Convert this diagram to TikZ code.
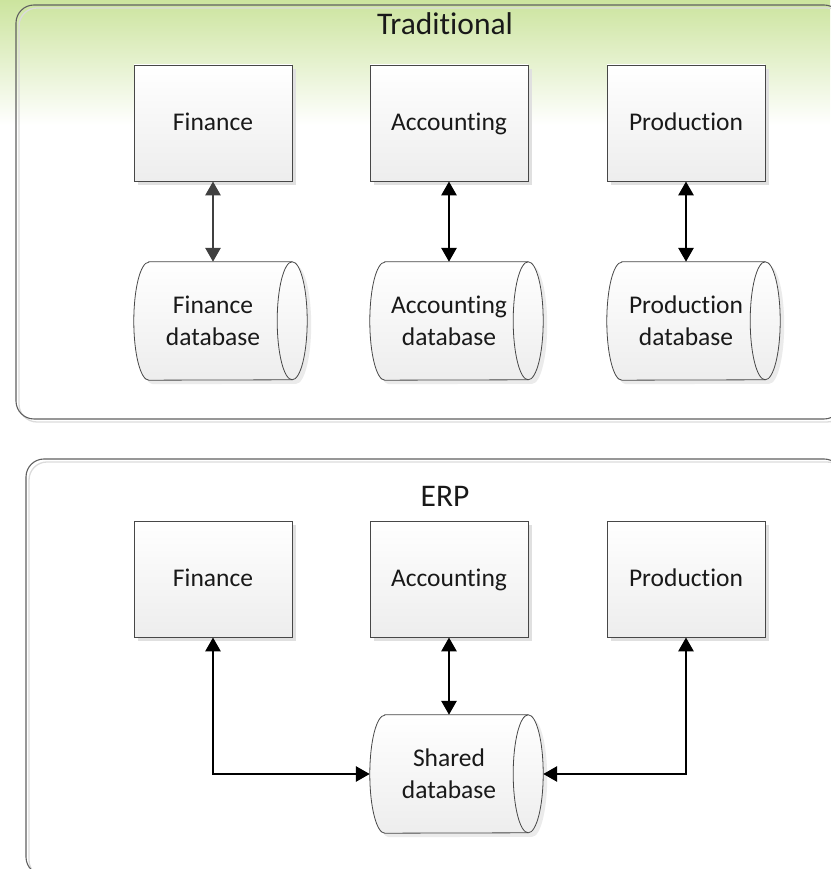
\documentclass[tikz,border=0pt]{standalone}
\usepackage{fontspec}
\setmainfont{Carlito}[Ligatures=NoCommon]
\usetikzlibrary{arrows.meta,calc,shadows}
\definecolor{bandgreen}{RGB}{204,228,158}
\definecolor{edgegray}{RGB}{96,96,96}
\newcommand\lblfont{\fontsize{25.5pt}{32pt}\selectfont}
\newcommand\headfont{\fontsize{31.5pt}{38pt}\selectfont}
\pgfdeclarelayer{background}
\pgfsetlayers{background,main}
% horizontal cylinder drawn around a database node
\newcommand\dbshape[1]{%
  \begin{pgfonlayer}{background}
    \fill[black!8] ($(#1.north west)+(19,-4)$) -- ($(#1.north east)+(4,-4)$)
      arc[start angle=90,end angle=-90,x radius=15pt,y radius=59pt]
      -- ($(#1.south west)+(19,-4)$)
      arc[start angle=270,end angle=90,x radius=15pt,y radius=59pt] -- cycle;
    \draw[dbline,top color=white,bottom color=black!7]
      ($(#1.north west)+(15,0)$) -- (#1.north east)
      arc[start angle=90,end angle=-90,x radius=15pt,y radius=59pt]
      -- ($(#1.south west)+(15,0)$)
      arc[start angle=270,end angle=90,x radius=15pt,y radius=59pt] -- cycle;
    \draw[dbline] (#1.north east)
      arc[start angle=90,end angle=270,x radius=15pt,y radius=59pt];
  \end{pgfonlayer}}
\tikzset{
  panel/.style={draw=edgegray,line width=1.1pt,rounded corners=18pt},
  panelshadow/.style={draw=black!14,line width=1.3pt,rounded corners=18pt},
  boxnode/.style={draw=black!72,line width=0.9pt,top color=white,bottom color=black!7,
    minimum width=158pt,minimum height=116pt,inner sep=0pt,font=\lblfont,text=black!90,
    text height=17pt,text depth=1pt,
    general shadow={fill=black!12,shadow xshift=4pt,shadow yshift=-4pt}},
  dbnode/.style={minimum width=158pt,minimum height=118pt,inner sep=0pt,align=center,
    font=\lblfont,text=black!90},
  dbline/.style={draw=black!72,line width=0.8pt},
  headnode/.style={font=\headfont,text=black!90,anchor=base,inner sep=0pt},
  conn/.style={line width=2.9pt,draw=black},
  softconn/.style={line width=2.9pt,draw=black!75},
}
\begin{document}
\begin{tikzpicture}[x=1pt,y=1pt,>={Triangle[length=14pt,width=15pt]}]
\useasboundingbox (0,0) rectangle (830,869);
% green band along the top edge
\shade[top color=bandgreen,bottom color=white] (0,744) rectangle (830,869);

% panels
\draw[panelshadow] (19,447) rectangle (845,861);
\draw[panel] (16,450) rectangle (842,864);
\draw[panelshadow] (29,-9) rectangle (845,407);
\draw[panel] (26,-6) rectangle (842,410);

\node[headnode] (t1) at (445,834) {Traditional};
\node[headnode] (t2) at (445,362) {ERP};

% traditional: one database per department
\node[boxnode] (fin1)  at (213,746) {Finance};
\node[boxnode] (acc1)  at (449,746) {Accounting};
\node[boxnode] (prod1) at (686,746) {Production};

\node[dbnode] (findb)  at (213,548) {Finance\\database};
\node[dbnode] (accdb)  at (449,548) {Accounting\\database};
\node[dbnode] (proddb) at (686,548) {Production\\database};
\dbshape{findb}\dbshape{accdb}\dbshape{proddb}

\draw[softconn,<->] (fin1) -- (findb);
\draw[conn,<->] (acc1) -- (accdb);
\draw[conn,<->] (prod1) -- (proddb);

% ERP: one shared database
\node[boxnode] (fin2)  at (213,290) {Finance};
\node[boxnode] (acc2)  at (449,290) {Accounting};
\node[boxnode] (prod2) at (686,290) {Production};

\node[dbnode] (shared) at (449,95) {Shared\\database};
\dbshape{shared}
\coordinate (sharedrim) at ($(shared.east)+(15,0)$);

\draw[conn,<->] (fin2) |- (shared);
\draw[conn,<->] (acc2) -- (shared);
\draw[conn,<->] (prod2) |- (sharedrim);
\end{tikzpicture}
\end{document}
